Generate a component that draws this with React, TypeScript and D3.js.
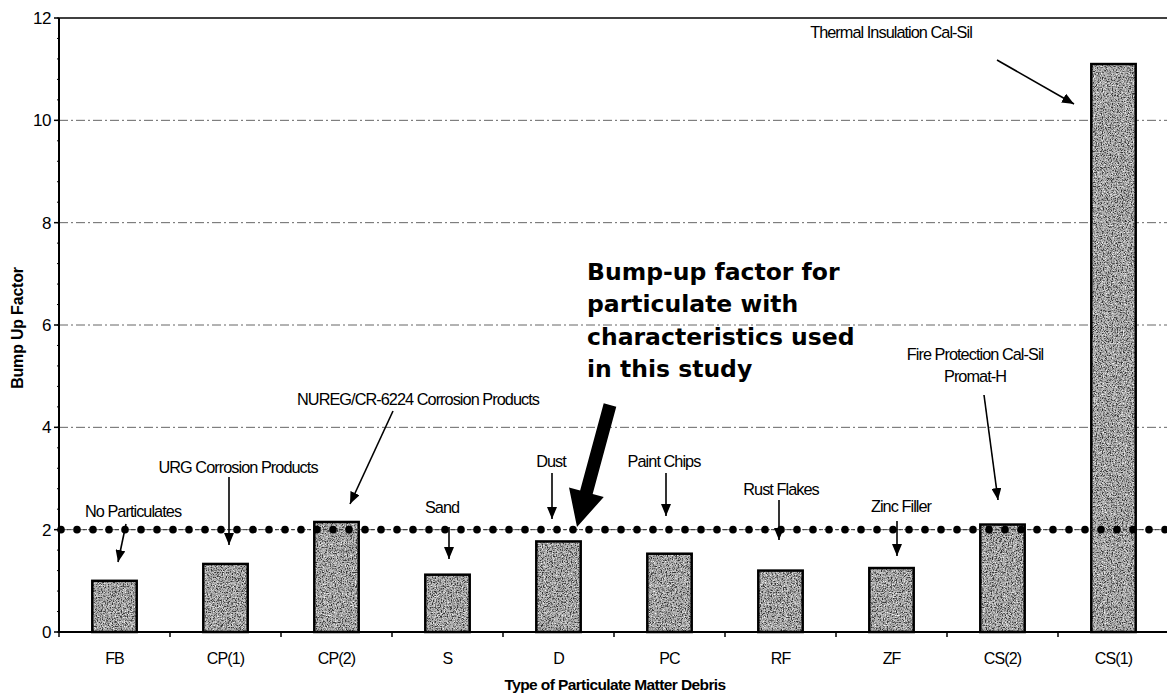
import React from 'react';
import * as d3 from 'd3';

const categories = ['FB', 'CP(1)', 'CP(2)', 'S', 'D', 'PC', 'RF', 'ZF', 'CS(2)', 'CS(1)'];
const values = [1.0, 1.33, 2.15, 1.12, 1.77, 1.53, 1.2, 1.25, 2.1, 11.1];
const yTicks = [0, 2, 4, 6, 8, 10, 12];
const gridValues = [2, 4, 6, 8, 10];
const referenceValue = 2;
const yLabel = 'Bump Up Factor';
const xLabel = 'Type of Particulate Matter Debris';
const calloutLines = ['Bump-up factor for', 'particulate with', 'characteristics used', 'in this study'];
const noteTexts = [
  ['No Particulates'],
  ['URG Corrosion Products'],
  ['NUREG/CR-6224 Corrosion Products'],
  ['Sand'],
  ['Dust'],
  ['Paint Chips'],
  ['Rust Flakes'],
  ['Zinc Filler'],
  ['Fire Protection Cal-Sil', 'Promat-H'],
  ['Thermal Insulation Cal-Sil'],
];

// layout of annotation labels and arrows (pixels)
const noteLayout = [
  { tx: 133, ty: 517, from: [126, 524], to: [118, 562] },
  { tx: 238, ty: 473, from: [229, 477], to: [229, 545] },
  { tx: 418, ty: 405, from: [393, 411], to: [350, 504] },
  { tx: 442, ty: 513, from: [449, 527], to: [449, 559] },
  { tx: 551, ty: 467, from: [552, 473], to: [552, 519] },
  { tx: 664, ty: 467, from: [666, 473], to: [666, 516] },
  { tx: 781, ty: 495, from: [779, 500], to: [779, 540] },
  { tx: 901, ty: 512, from: [897, 521], to: [897, 556] },
  { tx: 975, ty: 360, from: [984, 395], to: [998, 500] },
  { tx: 891, ty: 38, from: [997, 60], to: [1074, 104] },
];

const W = 1167;
const H = 694;
const left = 59;
const right = 1169;
const top = 18;
const bottom = 632;

export default function App() {
  const x = d3.scaleBand<string>().domain(categories).range([left, right]).paddingInner(0.6).paddingOuter(0.3);
  const y = d3.scaleLinear().domain([0, 12]).range([bottom, top]);
  const minor = d3.range(0, 12.001, 0.4);
  const dotXs = d3.range(61, W + 8, 16);
  const boundaries = d3.range(0, categories.length + 1).map((i) => left + i * x.step());

  // big callout arrow
  const bA = [610, 405];
  const bB = [577, 527];
  const dx = bB[0] - bA[0];
  const dy = bB[1] - bA[1];
  const len = Math.hypot(dx, dy);
  const ux = dx / len;
  const uy = dy / len;
  const px = -uy;
  const py = ux;
  const headLen = 36;
  const headHalf = 18;
  const shaftHalf = 6.5;
  const hb = [bB[0] - ux * headLen, bB[1] - uy * headLen];
  const bigArrow = [
    [bA[0] + px * shaftHalf, bA[1] + py * shaftHalf],
    [hb[0] + px * shaftHalf, hb[1] + py * shaftHalf],
    [hb[0] + px * headHalf, hb[1] + py * headHalf],
    bB,
    [hb[0] - px * headHalf, hb[1] - py * headHalf],
    [hb[0] - px * shaftHalf, hb[1] - py * shaftHalf],
    [bA[0] - px * shaftHalf, bA[1] - py * shaftHalf],
  ]
    .map((p) => p.join(','))
    .join(' ');

  const labelFont = "'Liberation Sans', Arial, sans-serif";

  return (
    <svg
      width={W}
      height={H}
      style={{ position: 'absolute', left: 0, top: 0, background: '#fff' }}
      xmlns="http://www.w3.org/2000/svg"
    >
      <defs>
        <marker id="ah" viewBox="0 0 12 10" refX="12" refY="5" markerWidth="12" markerHeight="10" markerUnits="userSpaceOnUse" orient="auto">
          <path d="M0,0 L12,5 L0,10 z" fill="#000" />
        </marker>
        <filter id="darkGrain" x="0" y="0" width="1" height="1">
          <feTurbulence type="fractalNoise" baseFrequency="0.8" numOctaves="2" seed="4" result="n" />
          <feColorMatrix in="n" type="matrix" values="0 0 0 0 0  0 0 0 0 0  0 0 0 0 0  4 0 0 0 -1.8" result="a" />
          <feComposite in="SourceGraphic" in2="a" operator="in" />
        </filter>
        <filter id="lightGrain" x="0" y="0" width="1" height="1">
          <feTurbulence type="fractalNoise" baseFrequency="0.9" numOctaves="2" seed="11" result="n" />
          <feColorMatrix in="n" type="matrix" values="0 0 0 0 0  0 0 0 0 0  0 0 0 0 0  -4 0 0 0 1.8" result="a" />
          <feComposite in="SourceGraphic" in2="a" operator="in" />
        </filter>
      </defs>

      {/* gridlines */}
      {gridValues.map((v) => (
        <line key={'g' + v} x1={left} x2={W} y1={y(v)} y2={y(v)} stroke="#666" strokeWidth={1} strokeDasharray="9 3 2 3" />
      ))}
      <line x1={left} x2={W} y1={y(12)} y2={y(12)} stroke="#000" strokeWidth={1.6} />

      {/* bars */}
      {categories.map((c, i) => {
        const bx = x(c) as number;
        const bw = x.bandwidth();
        const by = y(values[i]);
        const bh = bottom - by;
        return (
          <g key={c}>
            <rect x={bx} y={by} width={bw} height={bh} fill="#b4b4b4" />
            <rect x={bx} y={by} width={bw} height={bh} fill="#333" filter="url(#darkGrain)" />
            <rect x={bx} y={by} width={bw} height={bh} fill="#f4f4f4" filter="url(#lightGrain)" />
            <rect x={bx} y={by} width={bw} height={bh} fill="none" stroke="#000" strokeWidth={2.5} />
          </g>
        );
      })}

      {/* reference dotted line */}
      <line x1={left} x2={W} y1={y(referenceValue)} y2={y(referenceValue)} stroke="#333" strokeWidth={1} strokeDasharray="4 4" />
      {dotXs.map((dxv) => (
        <circle key={'d' + dxv} cx={dxv} cy={y(referenceValue)} r={3.8} fill="#000" />
      ))}

      {/* axes */}
      <line x1={left} x2={W} y1={bottom} y2={bottom} stroke="#000" strokeWidth={2} />
      <line x1={left} x2={left} y1={top} y2={bottom + 1} stroke="#000" strokeWidth={2} />
      {boundaries.map((bx, i) => (
        <line key={'xt' + i} x1={bx} x2={bx} y1={bottom} y2={bottom + 5} stroke="#000" strokeWidth={1.5} />
      ))}
      {minor.map((v, i) => (
        <line key={'mt' + i} x1={left - 2} x2={left} y1={y(v)} y2={y(v)} stroke="#000" strokeWidth={1} />
      ))}
      {yTicks.map((v) => (
        <g key={'yt' + v}>
          <line x1={left - 5} x2={left} y1={y(v)} y2={y(v)} stroke="#000" strokeWidth={1.5} />
          <text x={left - 8} y={y(v)} dy="0.35em" textAnchor="end" fontFamily={labelFont} fontSize={17} fill="#000" letterSpacing={-0.4}>
            {v}
          </text>
        </g>
      ))}
      {categories.map((c) => (
        <text
          key={'xl' + c}
          x={(x(c) as number) + x.bandwidth() / 2}
          y={664}
          textAnchor="middle"
          fontFamily={labelFont}
          fontSize={16}
          letterSpacing={-0.9}
          fill="#000"
        >
          {c}
        </text>
      ))}
      <text x={615} y={690} textAnchor="middle" fontFamily={labelFont} fontWeight="bold" fontSize={15.5} letterSpacing={-0.6} fill="#000">
        {xLabel}
      </text>
      <text
        transform={`translate(23, ${(top + bottom) / 2 + 3}) rotate(-90)`}
        textAnchor="middle"
        fontFamily={labelFont}
        fontWeight="bold"
        fontSize={16}
        letterSpacing={-0.2}
        fill="#000"
      >
        {yLabel}
      </text>

      {/* annotations */}
      {noteTexts.map((lines, i) => {
        const L = noteLayout[i];
        return (
          <g key={'n' + i}>
            {lines.map((t, j) => (
              <text
                key={j}
                x={L.tx}
                y={L.ty + j * 22}
                textAnchor="middle"
                fontFamily={labelFont}
                fontSize={16.3}
                letterSpacing={-0.95}
                fill="#000"
              >
                {t}
              </text>
            ))}
            <line x1={L.from[0]} y1={L.from[1]} x2={L.to[0]} y2={L.to[1]} stroke="#000" strokeWidth={1.6} markerEnd="url(#ah)" />
          </g>
        );
      })}

      {/* callout */}
      {calloutLines.map((t, i) => (
        <text key={'c' + i} x={587} y={280 + i * 32.3} fontFamily="'DejaVu Sans', Verdana, sans-serif" fontWeight="bold" fontSize={23.5} fill="#000">
          {t}
        </text>
      ))}
      <polygon points={bigArrow} fill="#000" />
    </svg>
  );
}
